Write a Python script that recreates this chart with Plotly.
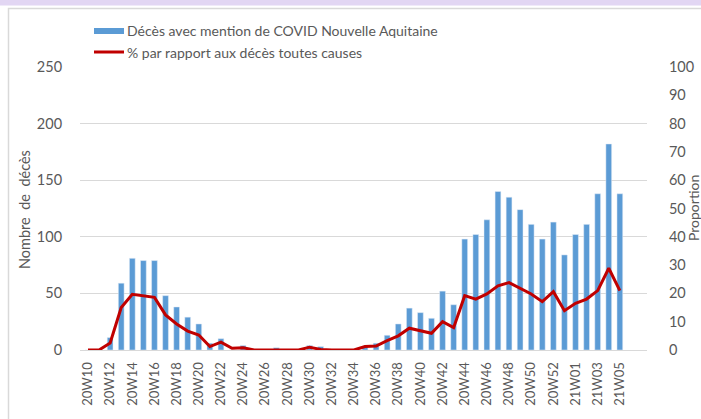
import plotly.graph_objects as go

weeks = [f"20W{w:02d}" for w in range(10, 54)] + [f"21W{w:02d}" for w in range(1, 6)]
deaths = [0, 0, 11, 59, 81, 79, 79, 48, 38, 29, 23, 6, 10, 0, 4, 0, 0, 2, 0, 0,
          4, 3, 0, 0, 0, 3, 6, 13, 23, 37, 33, 28, 52, 40, 98, 102, 115, 140, 135, 124,
          111, 98, 113, 84, 102, 111, 138, 182, 138]
pct = [0, 0, 2.5, 15, 19.7, 19.2, 18.6, 12.4, 9.2, 6.7, 5.3, 1.2, 2.8, 0.6, 0.8, 0, 0, 0, 0, 0,
       1.0, 0.2, 0, 0, 0, 1.2, 1.4, 3.3, 5, 7.7, 6.8, 5.9, 10, 7.9, 19.2, 18, 19.8, 22.7, 23.8, 21.8,
       19.8, 17.1, 20.6, 13.9, 16.5, 18, 21, 28.9, 21]
tick_weeks = weeks[::2]
left_ticks = [0, 50, 100, 150, 200, 250]
right_ticks = list(range(0, 101, 10))

bar_name = "Décès avec mention de COVID Nouvelle Aquitaine"
line_name = "% par rapport aux décès toutes causes"

FONT = "Lato, Calibri, Carlito, sans-serif"
GREY = "#595959"
L, R, T, B = 80, 54, 67, 69
W, H = 701, 419
PW, PH = W - L - R, H - T - B

def px(x):
    return (x - L) / PW

def py(y):
    return (H - B - y) / PH

fig = go.Figure()
fig.add_trace(go.Bar(x=weeks, y=deaths, name=bar_name, marker_color="#5B9BD5",
                     width=0.52, yaxis="y"))
fig.add_trace(go.Scatter(x=weeks, y=pct, name=line_name, mode="lines",
                         line=dict(color="#C00000", width=3), yaxis="y2"))

shapes = [
    dict(type="rect", xref="paper", yref="paper", x0=px(-5), x1=px(710), y0=py(5.5), y1=py(-5),
         fillcolor="#E2D6F3", line=dict(width=0), layer="above"),
    dict(type="rect", xref="paper", yref="paper", x0=px(8.5), x1=px(720), y0=py(440), y1=py(8.5),
         fillcolor="rgba(0,0,0,0)", line=dict(color="#D9D9D9", width=1.5), layer="above"),
    dict(type="rect", xref="paper", yref="paper", x0=px(94), x1=px(124), y0=py(34), y1=py(28),
         fillcolor="#5B9BD5", line=dict(width=0)),
    dict(type="line", xref="paper", yref="paper", x0=px(94), x1=px(124), y0=py(52), y1=py(52),
         line=dict(color="#C00000", width=3)),
]
annotations = [
    dict(text=bar_name, xref="paper", yref="paper", x=px(125), y=py(31), xanchor="left",
         yanchor="middle", showarrow=False, font=dict(family=FONT, size=14, color=GREY)),
    dict(text=line_name, xref="paper", yref="paper", x=px(125), y=py(52), xanchor="left",
         yanchor="middle", showarrow=False, font=dict(family=FONT, size=14, color=GREY)),
    dict(text="Nombre  de  décès", xref="paper", yref="paper", x=px(24), y=py(210), xanchor="center",
         yanchor="middle", textangle=-90, showarrow=False, font=dict(family=FONT, size=14.5, color=GREY)),
    dict(text="Proportion", xref="paper", yref="paper", x=px(693), y=py(208), xanchor="center",
         yanchor="middle", textangle=-90, showarrow=False, font=dict(family=FONT, size=14, color=GREY)),
]

fig.update_layout(
    width=W, height=H,
    margin=dict(l=L, r=R, t=T, b=B, autoexpand=False),
    paper_bgcolor="white", plot_bgcolor="white",
    showlegend=False,
    bargap=0.45,
    font=dict(family=FONT, color=GREY),
    shapes=shapes, annotations=annotations,
    xaxis=dict(type="category", categoryorder="array", categoryarray=weeks,
               range=[-0.72, 50.45], tickvals=tick_weeks, ticktext=tick_weeks,
               tickangle=-90, tickfont=dict(family=FONT, size=13, color=GREY),
               showgrid=False, showline=True, linecolor="#D9D9D9", linewidth=1,
               ticks="outside", ticklen=6, tickcolor="rgba(0,0,0,0)", zeroline=False,
               automargin=False),
    yaxis=dict(range=[0, 250], tickvals=left_ticks, showgrid=True, gridcolor="#D9D9D9",
               gridwidth=1, zeroline=False, tickfont=dict(family=FONT, size=14.5, color=GREY),
               ticks="outside", ticklen=14, tickcolor="rgba(0,0,0,0)", automargin=False),
    yaxis2=dict(range=[0, 100], tickvals=right_ticks, overlaying="y", side="right",
                showgrid=False, zeroline=False, tickfont=dict(family=FONT, size=14.5, color=GREY),
                ticks="outside", ticklen=18, tickcolor="rgba(0,0,0,0)", automargin=False),
)

fig.write_html("out.html", config={"displayModeBar": False},
               post_script="document.body.style.margin='0';document.body.style.overflow='hidden';")
